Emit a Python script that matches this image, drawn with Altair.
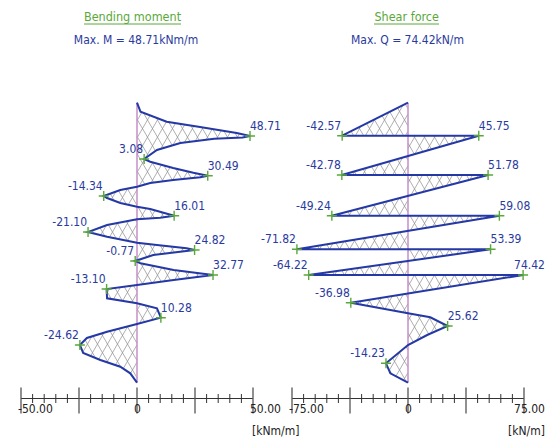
import altair as alt
import numpy as np
import pandas as pd

# ---------------- data ----------------
# Bending moment diagram: depth [m] and moment [kNm/m]
m_depth = [0, 0.45, 0.95, 1.2, 1.515, 1.665, 1.74, 1.80, 2.015, 2.365, 2.815,
           2.95, 3.265, 3.5, 3.65, 3.73, 3.865, 4.015, 4.2,
           4.365, 4.665, 4.765, 5.015, 5.2,
           5.315, 5.65, 5.75, 5.83,
           6.115, 6.465, 6.7, 7.0,
           7.115, 7.28, 7.365, 7.615, 7.915,
           8.03, 8.365, 8.615, 8.865, 9.115,
           9.315, 9.78, 10.03,
           10.28, 10.75, 11.065,
           11.45, 11.765, 12.115, 12.515, 12.865, 13.2, 13.53, 14.0]
m_value = [0, 1.5, 12.8, 26.5, 43.0, 48.71, 45.5, 33.3, 18.7, 8.6, 3.08,
           5.7, 15.6, 24.3, 30.49, 27.3, 15.6, 5.7, 0,
           -7.2, -14.34, -12.9, -7.2, 0,
           5.7, 16.01, 10.0, 0,
           -12.9, -21.10, -12.9, 0,
           8.6, 21.4, 24.82, 7.0, -0.77,
           1.5, 15.8, 32.77, 15.8, 0,
           -13.10, -12.9, 0,
           8.6, 10.28, 0,
           -12.9, -21.6, -24.62, -23.2, -15.8, -7.2, -2.9, 0]
m_peaks = [48.71, 3.08, 30.49, -14.34, 16.01, -21.10, 24.82, -0.77, 32.77,
           -13.10, 10.28, -24.62]

# Shear force diagram: depth [m] and shear [kN/m]
q_depth = [0, 1.65, 1.65, 3.615, 3.615, 5.65, 5.65, 7.33, 7.33, 8.615, 8.615,
           10.0, 10.53, 10.73, 11.165, 11.615, 12.115, 13.03, 13.53, 14.0]
q_value = [0, -42.57, 45.75, -42.78, 51.78, -49.24, 59.08, -71.82, 53.39,
           -64.22, 74.42, -36.98, 0, 14.4, 25.62, 12.4, 0, -14.23, -11.4, 0]
q_peaks = [-42.57, 45.75, -42.78, 51.78, -49.24, 59.08, -71.82, 53.39,
           -64.22, 74.42, -36.98, 25.62, -14.23]

m_lim, m_minor = 50, 5
q_lim, q_minor = 75, 7.5

titles = ["Bending moment", "Shear force"]
subtitles = ["Max. M = 48.71kNm/m", "Max. Q = 74.42kN/m"]
units = ["[kNm/m]", "[kN/m]"]

# ---------------- styling ----------------
W, H = 232, 432
D_TOP, PX_PER_M = 94.7, 20.0
Y_DOM = [-D_TOP / PX_PER_M, (H - D_TOP) / PX_PER_M]
FONT = "DejaVu Sans Condensed, DejaVu Sans, Roboto"
FS = 12
BLUE = "#2438a6"
TXT = "#2a3a9e"
GREEN = "#5aa83a"
PINK = "#c58fc8"
HATCH = "#8c8c8c"
EDGE = 22      # px to the right of the last panel that stay inside the page


def pip(px, py, X, Y):
    x1, y1 = X, Y
    x2, y2 = np.roll(X, -1), np.roll(Y, -1)
    pyc = py[:, None]
    pxc = px[:, None]
    cond = (y1 > pyc) != (y2 > pyc)
    with np.errstate(divide="ignore", invalid="ignore"):
        xint = x1 + (pyc - y1) * (x2 - x1) / (y2 - y1)
    cross = cond & (pxc < xint)
    return (cross.sum(axis=1) % 2) == 1


def hatch(depth, value, sx, spacing=10.0, slope=0.58):
    X = np.array(value, float) * sx
    Y = np.array(depth, float) * PX_PER_M
    ys = np.arange(Y.min(), Y.max(), 0.25)
    rows = []
    span = slope * Y.max()
    for sgn in (1, -1):
        cs = np.arange(X.min() - span - spacing, X.max() + span + spacing, spacing)
        for c in cs:
            xs = c + sgn * slope * ys
            ins = pip(xs, ys, X, Y).astype(int)
            d = np.diff(np.concatenate([[0], ins, [0]]))
            starts = np.where(d == 1)[0]
            ends = np.where(d == -1)[0] - 1
            for s, e in zip(starts, ends):
                if e - s < 2:
                    continue
                rows.append({"v1": xs[s] / sx, "d1": ys[s] / PX_PER_M,
                             "v2": xs[e] / sx, "d2": ys[e] / PX_PER_M})
    return pd.DataFrame(rows)


def panel(depth, value, peaks, lim, minor, k, title_cx, ul, sub_cx, last):
    sx = W / (2 * lim)
    xsc = alt.Scale(domain=[-lim, lim], nice=False, zero=False)
    ysc = alt.Scale(domain=Y_DOM, reverse=True, nice=False, zero=False)
    X = lambda f: alt.X(f, type="quantitative", scale=xsc, axis=None)
    Yy = lambda f: alt.Y(f, type="quantitative", scale=ysc, axis=None)

    prof = pd.DataFrame({"i": range(len(depth)), "d": depth, "v": value})

    # labels: local minimum -> text on the left, maximum -> on the right;
    # a right label that would leave the page is pulled back to the edge
    lab = []
    for p in peaks:
        i = value.index(p)
        nb = [value[j] for j in (i - 1, i + 1) if 0 <= j < len(value)]
        t = f"{p:.2f}"
        side = "L" if all(p < n for n in nb) else "R"
        if side == "R" and last and (p + lim) * sx + len(t) * 6.3 > W + EDGE:
            side = "E"
        lab.append({"d": depth[i], "v": p, "t": t, "side": side, "lim": lim})
    lab = pd.DataFrame(lab)

    hat = alt.Chart(hatch(depth, value, sx)).mark_rule(
        color=HATCH, strokeWidth=0.7).encode(
        x=X("v1"), x2="v2", y=Yy("d1"), y2="d2")

    zero = alt.Chart(pd.DataFrame({"v": [0], "d1": [0], "d2": [max(depth)]})).mark_rule(
        color=PINK, strokeWidth=1.5).encode(x=X("v"), y=Yy("d1"), y2="d2")

    line = alt.Chart(prof).mark_line(color=BLUE, strokeWidth=2).encode(
        x=X("v"), y=Yy("d"), order="i:Q")

    plus = alt.Chart(lab).mark_point(
        shape="M-1,0L1,0M0,-1L0,1", filled=False, color=GREEN, size=100,
        strokeWidth=1.4, opacity=1).encode(x=X("v"), y=Yy("d"))

    txtR = alt.Chart(lab).transform_filter("datum.side == 'R'").mark_text(
        align="left", baseline="alphabetic", dx=0, dy=-6, font=FONT,
        fontSize=FS, color=TXT).encode(x=X("v"), y=Yy("d"), text="t:N")
    txtL = alt.Chart(lab).transform_filter("datum.side == 'L'").mark_text(
        align="right", baseline="alphabetic", dx=-1, dy=-6, font=FONT,
        fontSize=FS, color=TXT).encode(x=X("v"), y=Yy("d"), text="t:N")
    txtE = alt.Chart(lab).transform_filter("datum.side == 'E'").mark_text(
        align="right", baseline="alphabetic", dx=EDGE - 1, dy=-6, font=FONT,
        fontSize=FS, color=TXT).encode(x=X("lim"), y=Yy("d"), text="t:N")

    # axis
    majors = list(np.linspace(-lim, lim, 5))
    minors = [t for t in np.arange(-lim, lim + 0.01, minor)
              if min(abs(t - m) for m in majors) > 1e-6]
    axline = alt.Chart(pd.DataFrame({"lo": [-lim], "hi": [lim]})).mark_rule(
        color="#333333", strokeWidth=1).encode(
        x=X("lo"), x2="hi", y=alt.value(390.5))
    tmaj = alt.Chart(pd.DataFrame({"t": majors})).mark_rule(
        color="#555555", strokeWidth=1.3).encode(
        x=X("t"), y=alt.value(379.5), y2=alt.value(405.5))
    tmin = alt.Chart(pd.DataFrame({"t": minors})).mark_rule(
        color="#333333", strokeWidth=1).encode(
        x=X("t"), y=alt.value(386), y2=alt.value(395))
    tl_df = pd.DataFrame({"t": [-lim, 0, lim],
                          "s": [f"{-lim:.2f}", "0", f"{lim:.2f}"]})
    n_in = 2 if last else 3
    tl = alt.Chart(tl_df.iloc[:n_in]).mark_text(
        align="left", baseline="top", dx=-3, font=FONT, fontSize=FS,
        color="#222222").encode(x=X("t"), y=alt.value(396), text="s:N")
    layers_extra = []
    if last:
        layers_extra.append(alt.Chart(tl_df.iloc[2:]).mark_text(
            align="right", baseline="top", dx=EDGE - 1, font=FONT, fontSize=FS,
            color="#222222").encode(x=X("t"), y=alt.value(396), text="s:N"))
    unit = alt.Chart(pd.DataFrame({"t": [lim], "s": [units[k]]})).mark_text(
        align="right" if last else "left", baseline="top",
        dx=EDGE - 1 if last else -1, font=FONT, fontSize=FS,
        color="#222222").encode(x=X("t"), y=alt.value(418), text="s:N")

    # titles
    ttl = alt.Chart(pd.DataFrame({"s": [titles[k]]})).mark_text(
        align="center", baseline="alphabetic", font=FONT, fontSize=12.5,
        color=GREEN).encode(x=alt.value(title_cx), y=alt.value(13), text="s:N")
    und = alt.Chart(pd.DataFrame({"s": [titles[k]]})).mark_rule(
        color=GREEN, strokeWidth=1).encode(
        x=alt.value(ul[0]), x2=alt.value(ul[1]), y=alt.value(16))
    sub = alt.Chart(pd.DataFrame({"s": [subtitles[k]]})).mark_text(
        align="center", baseline="alphabetic", font=FONT, fontSize=12,
        color=TXT).encode(x=alt.value(sub_cx), y=alt.value(35.5), text="s:N")

    return alt.layer(hat, zero, line, plus, txtR, txtL, txtE, axline, tmaj,
                     tmin, tl, *layers_extra, unit, ttl, und,
                     sub).properties(width=W, height=H)


left = panel(m_depth, m_value, m_peaks, m_lim, m_minor, 0,
             111.5, (63, 160), 115, False)
right = panel(q_depth, q_value, q_peaks, q_lim, q_minor, 1,
              114.7, (82, 147), 115.5, True)

# fixed canvas 539 x 432 (fits the 555 x 448 page with its 8px margins)
chart = alt.hconcat(left, right, spacing=39, bounds="flush").resolve_scale(
    x="independent", y="independent").properties(
    autosize=alt.AutoSizeParams(type="none"),
    padding={"left": 13, "top": 0, "right": 526, "bottom": 432}).configure_view(
    stroke=None)

chart.save("out.html", embed_options={"renderer": "svg", "actions": False})
